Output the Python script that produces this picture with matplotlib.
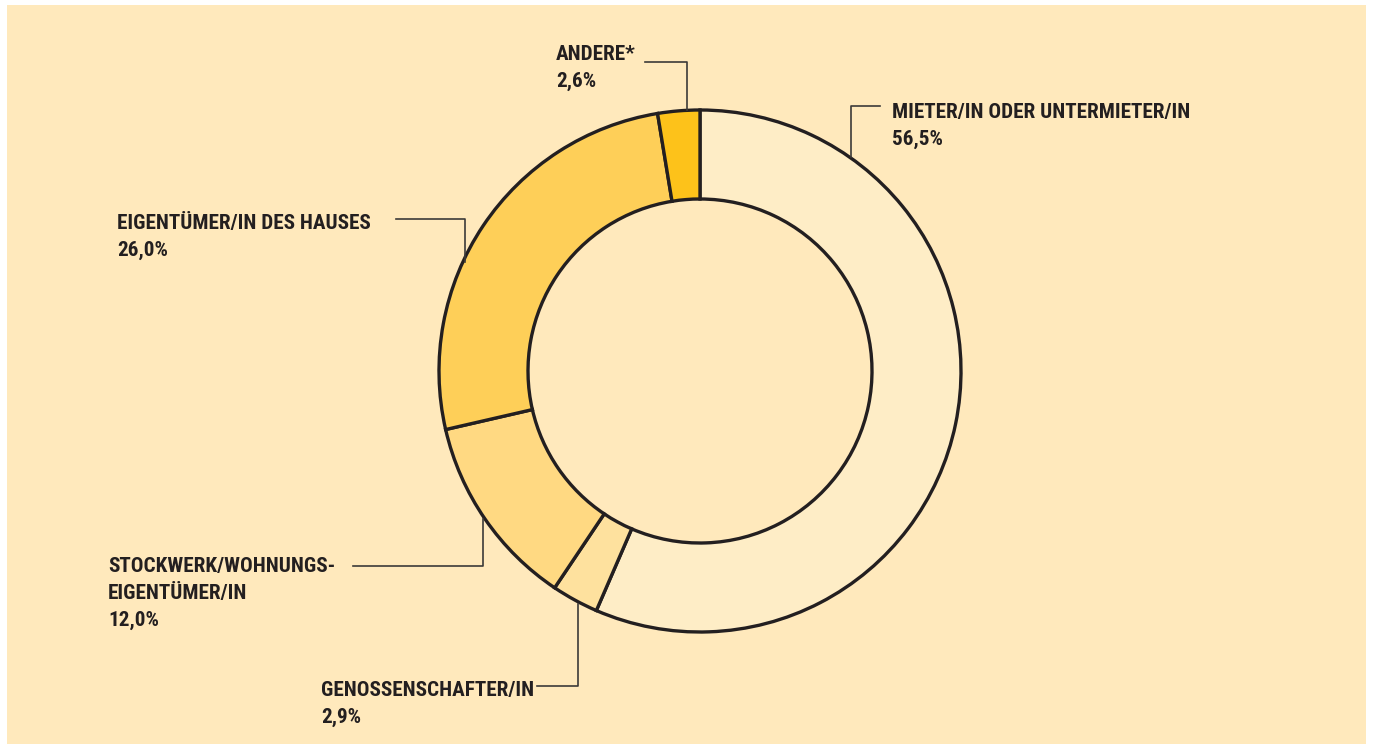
import matplotlib
matplotlib.use("Agg")
import matplotlib.pyplot as plt
from matplotlib.patches import Rectangle

# Wohnsituation - Anteile in Prozent
labels = ["MIETER/IN ODER UNTERMIETER/IN", "GENOSSENSCHAFTER/IN",
          "STOCKWERK/WOHNUNGS-\nEIGENTÜMER/IN", "EIGENTÜMER/IN DES HAUSES", "ANDERE*"]
values = [56.5, 2.9, 12.0, 26.0, 2.6]
pct_text = ["56,5%", "2,9%", "12,0%", "26,0%", "2,6%"]
colors = ["#FEEDC6", "#FEE19E", "#FFD982", "#FECF58", "#FDC21A"]

W, H = 1373, 749
fig = plt.figure(figsize=(W / 100, H / 100), dpi=100)
fig.patch.set_facecolor("white")
ax = fig.add_axes([0, 0, 1, 1])

ax.add_patch(Rectangle((7, 5), 1359, 739, facecolor="#FFE9BC", edgecolor="none", zorder=0))

fam = ["Roboto Condensed", "Archivo Narrow", "DejaVu Sans"]

cx, cy = 700, H - 371
ax.pie(values, colors=colors, startangle=90, counterclock=False,
       center=(cx, cy), radius=261, frame=True,
       wedgeprops=dict(width=89, edgecolor="#231F20", linewidth=2.4))
ax.set_xlim(0, W)
ax.set_ylim(0, H)
ax.set_aspect("equal")
ax.axis("off")

txt = "#231F20"
line_c = "#3C3A38"

def leader(pts):
    xs = [p[0] for p in pts]
    ys = [H - p[1] for p in pts]
    ax.plot(xs, ys, color=line_c, lw=1.2, zorder=1)

def label(x, y0, name, pct):
    lines = name.split("\n") + [pct]
    for k, s in enumerate(lines):
        ax.text(x, H - (y0 + 27 * k), s, ha="left", va="baseline", color=txt,
                fontsize=15.2, fontweight="heavy", family=fam)

# Mieter/in
leader([(880, 106), (851, 106), (851, 157)])
label(892, 118, labels[0], pct_text[0])
# Genossenschafter/in
leader([(537, 686), (578, 686), (578, 604)])
label(321, 696, labels[1], pct_text[1])
# Stockwerk
leader([(353, 566), (483, 566), (483, 519)])
label(108, 572, labels[2], pct_text[2])
# Eigentümer
leader([(396, 219), (465, 219), (465, 262)])
label(117, 229, labels[3], pct_text[3])
# Andere
leader([(645, 62), (687, 62), (687, 110)])
label(556, 60, labels[4], pct_text[4])

fig.savefig("out.png", dpi=100, facecolor=fig.get_facecolor())
